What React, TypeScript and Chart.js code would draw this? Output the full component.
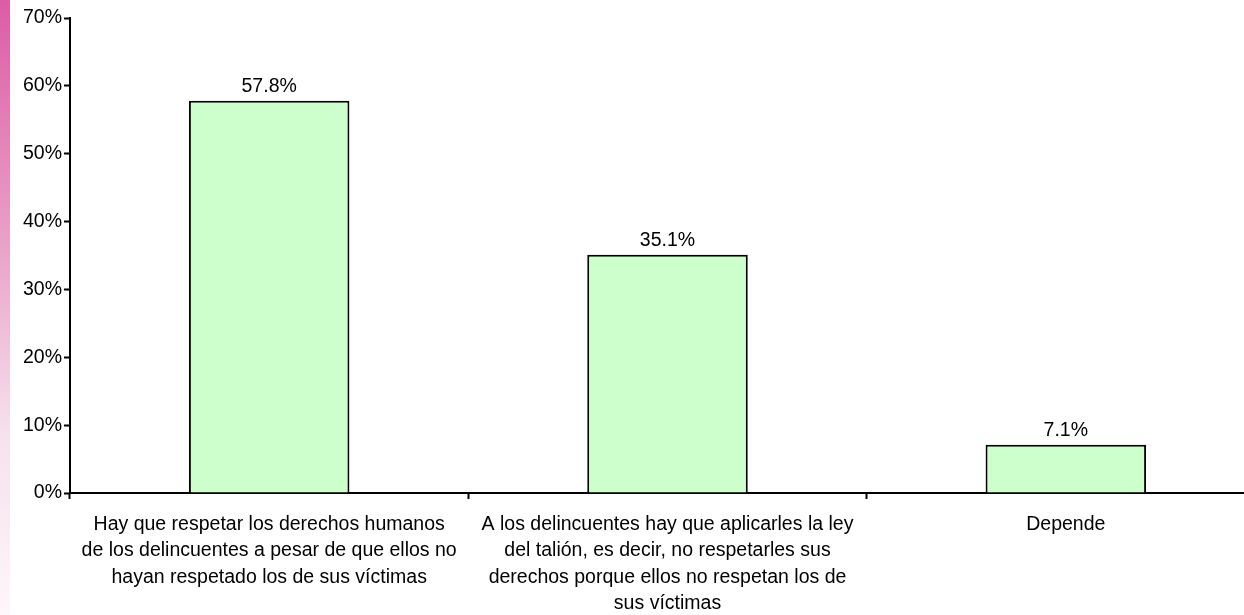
import React, { useEffect, useRef } from "react";
import { Chart, registerables } from "chart.js";

Chart.register(...registerables);

const categories: string[][] = [
  ["Hay que respetar los derechos humanos", "de los delincuentes a pesar de que ellos no", "hayan respetado los de sus víctimas"],
  ["A los delincuentes hay que aplicarles la ley", "del talión, es decir, no respetarles sus", "derechos porque ellos no respetan los de", "sus víctimas"],
  ["Depende"],
];
const values: number[] = [57.8, 35.1, 7.1];
const yTicks: number[] = [0, 10, 20, 30, 40, 50, 60, 70];

const FONT = "'Liberation Sans', Arial, sans-serif";
const FS = 19.5;

const labelPlugin = {
  id: "valueLabels",
  afterDatasetsDraw(chart: any) {
    const ctx = chart.ctx;
    const meta = chart.getDatasetMeta(0);
    ctx.save();
    ctx.font = `${FS}px ${FONT}`;
    ctx.fillStyle = "#000";
    ctx.textAlign = "center";
    ctx.textBaseline = "bottom";
    meta.data.forEach((bar: any, i: number) => {
      ctx.fillText(values[i].toFixed(1) + "%", bar.x, bar.y - 4);
    });
    ctx.restore();
  },
};

export default function App() {
  const ref = useRef<HTMLCanvasElement>(null);
  useEffect(() => {
    document.body.style.overflow = "hidden";
    const chart = new Chart(ref.current!, {
      type: "bar",
      data: {
        labels: categories,
        datasets: [
          {
            data: values,
            backgroundColor: "#ccffcc",
            borderColor: "#000",
            borderWidth: 2,
            barPercentage: 0.403,
            categoryPercentage: 1,
          },
        ],
      },
      options: {
        animation: false,
        responsive: false,
        layout: { padding: { top: 18, right: 15, left: 0, bottom: 0 } },
        plugins: { legend: { display: false }, tooltip: { enabled: false } },
        scales: {
          x: {
            grid: { offset: true, drawOnChartArea: false, drawTicks: true, tickLength: 6, tickColor: "#000", tickWidth: 2 },
            border: { display: true, color: "#000", width: 2 },
            ticks: { color: "#000", font: { family: FONT, size: FS, lineHeight: 1.36 }, padding: 12, maxRotation: 0, autoSkip: false },
            afterFit(scale: any) { scale.height = 122; },
          },
          y: {
            min: 0,
            max: 70,
            afterBuildTicks(scale: any) { scale.ticks = yTicks.map((v) => ({ value: v })); },
            grid: { drawOnChartArea: false, drawTicks: true, tickLength: 6, tickColor: "#000", tickWidth: 2 },
            border: { display: true, color: "#000", width: 2 },
            ticks: { color: "#000", font: { family: FONT, size: FS }, padding: 2, callback: (v: any) => v + "%" },
            afterFit(scale: any) { scale.width = 70; },
          },
        },
      },
      plugins: [labelPlugin],
    });
    return () => chart.destroy();
  }, []);
  return (
    <div style={{ position: "fixed", left: 0, top: 0, width: 1244, height: 615, overflow: "hidden", background: "#fff" }}>
      <div style={{ position: "absolute", left: 0, top: 0, width: 10, height: 615, background: "linear-gradient(to bottom, #dc5ca6 0%, #e9a2c9 40%, #f7e0ec 70%, #fdf6fa 100%)" }} />
      <canvas ref={ref} width={1280} height={615} style={{ position: "absolute", left: 0, top: 0, display: "block" }} />
    </div>
  );
}
